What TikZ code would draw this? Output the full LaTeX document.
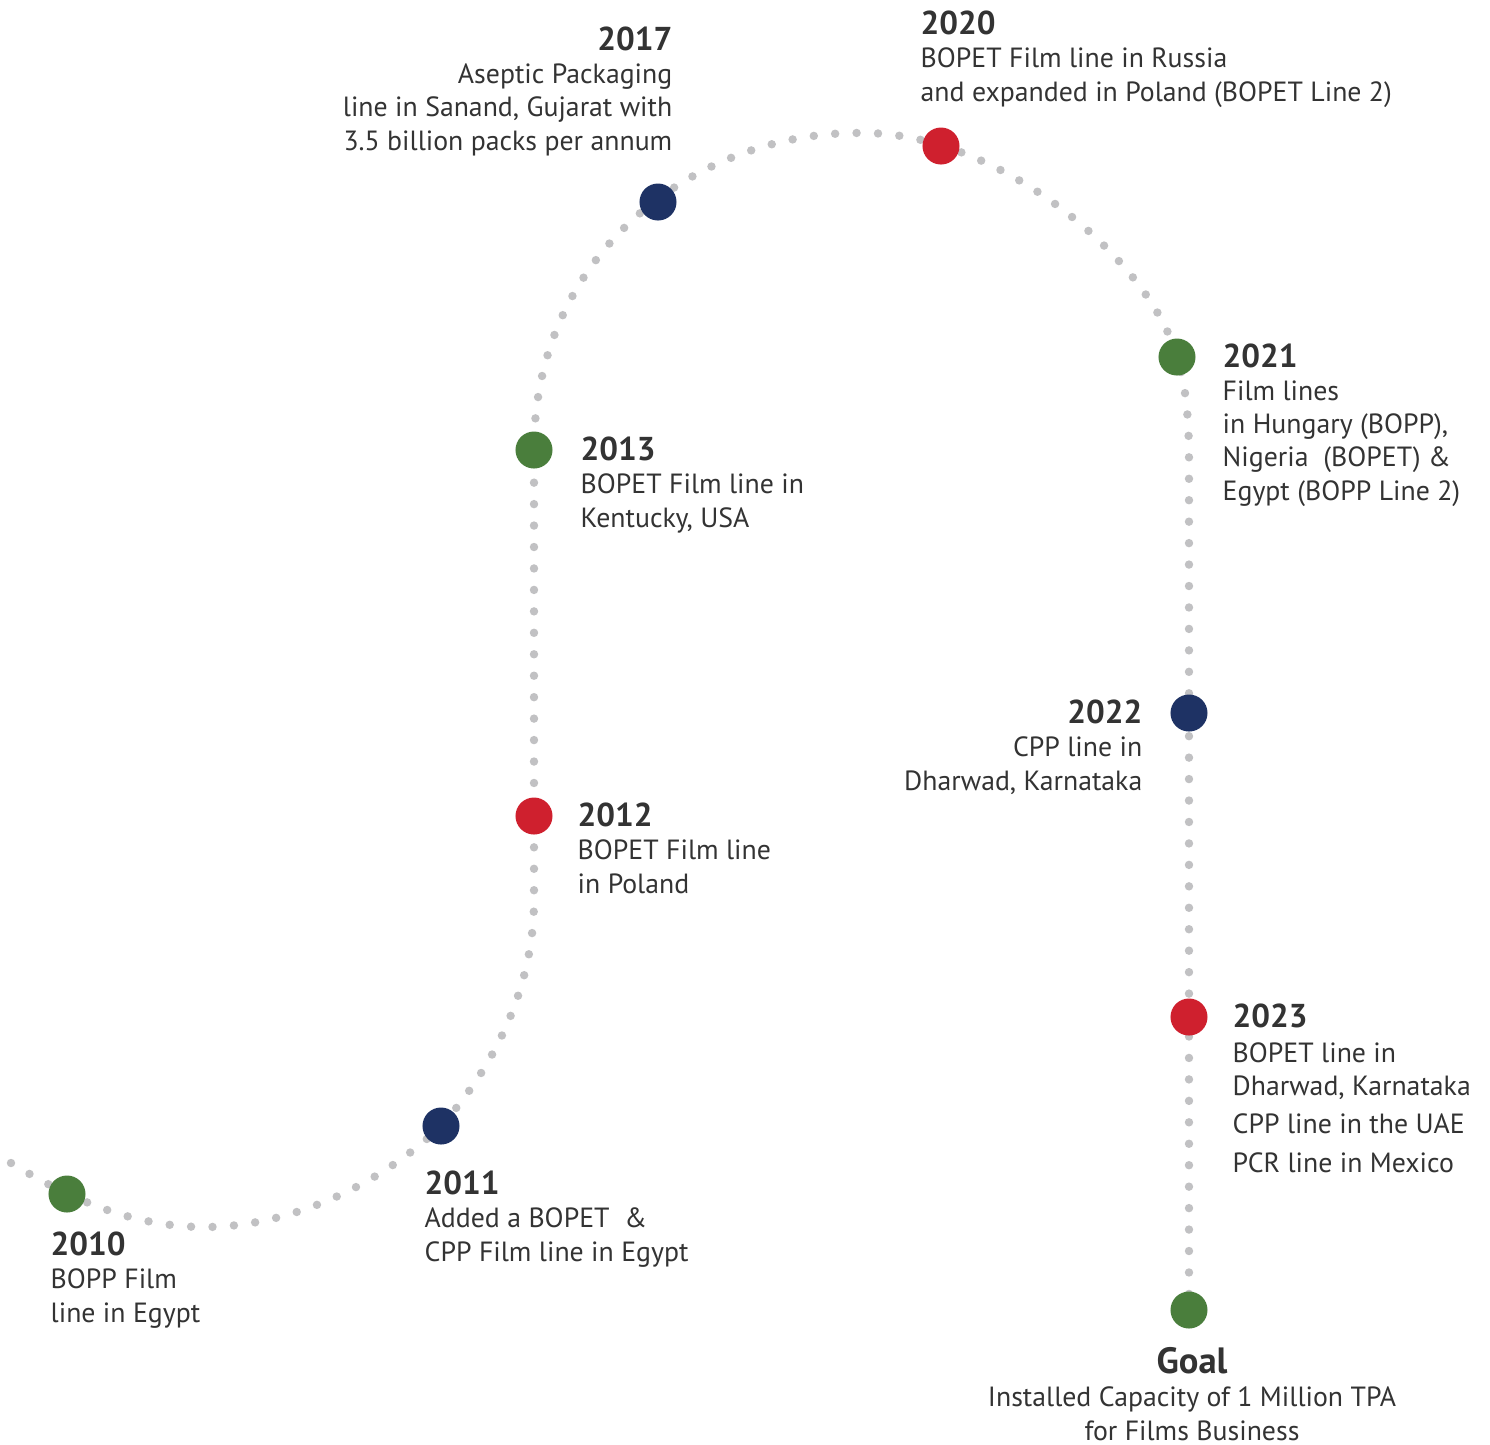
\documentclass[tikz,border=0pt]{standalone}
\usepackage{fontspec}
\setmainfont{PT Sans}
\usepackage{xcolor}
\pgfdeclarelayer{background}
\pgfsetlayers{background,main}

\definecolor{mgreen}{HTML}{4A7E3C}
\definecolor{mnavy}{HTML}{1E3264}
\definecolor{mred}{HTML}{CF202E}
\definecolor{trailgray}{HTML}{C1C1C3}
\definecolor{txtgray}{HTML}{333333}

\tikzset{
  milestone/.style={circle, inner sep=0pt, minimum size=3.7mm, fill=#1},
  trail/.style={trailgray, line width=2.4pt, line cap=round, dash pattern=on 0pt off 6.1pt},
  info/.style={inner sep=0pt, text=txtgray, font=\fontsize{7.9}{9.4}\selectfont},
}

\newcommand{\yr}[1]{{\fontsize{9.4}{9.4}\selectfont\bfseries #1}}

\begin{document}
\begin{tikzpicture}[x=0.01cm, y=-0.01cm]

\useasboundingbox (0,0) rectangle (1490,1444);

%milestones
\node [milestone=mgreen] (m2010) at (67,1194) {};
\node [milestone=mnavy] (m2011) at (441,1126) {};
\node [milestone=mred] (m2012) at (534,816) {};
\node [milestone=mgreen] (m2013) at (534,450) {};
\node [milestone=mnavy] (m2017) at (658,202) {};
\node [milestone=mred] (m2020) at (941,146) {};
\node [milestone=mgreen] (m2021) at (1177,357) {};
\node [milestone=mnavy] (m2022) at (1189,713) {};
\node [milestone=mred] (m2023) at (1189,1017) {};
\node [milestone=mgreen] (goal) at (1189,1310) {};

%dotted trail
\coordinate (start) at (11,1163);
\begin{pgfonlayer}{background}
\draw [trail] (start) .. controls (80,1205) and (140,1227) .. (205,1227)
  .. controls (290,1227) and (380,1185) .. (m2011.center)
  .. controls (500,1060) and (534,980) .. (534,900) -- (m2013.center)
  .. controls (534,250) and (700,130) .. (864,133)
  .. controls (1000,133) and (1150,260) .. (m2021.center)
  .. controls (1186,385) and (1189,420) .. (1189,460) -- (goal.center) ;
\end{pgfonlayer}

%labels (placed at the baseline of their last line)
\node [info, align=left, anchor=base west] (t2010) at (50,1322) {\yr{2010}\\BOPP Film\\line in Egypt} ;
\node [info, align=left, anchor=base west] (t2011) at (424,1261) {\yr{2011}\\Added a BOPET ~\&\\CPP Film line in Egypt} ;
\node [info, align=left, anchor=base west] (t2012) at (577,893) {\yr{2012}\\BOPET Film line\\in Poland} ;
\node [info, align=left, anchor=base west] (t2013) at (580,527) {\yr{2013}\\BOPET Film line in\\Kentucky, USA} ;
\node [info, align=right, anchor=base east] (t2017) at (673,150) {\yr{2017}\\Aseptic Packaging\\line in Sanand, Gujarat with\\3.5 billion packs per annum} ;
\node [info, align=left, anchor=base west] (t2020) at (920,101) {\yr{2020}\\BOPET Film line in Russia\\and expanded in Poland (BOPET Line 2)} ;
\node [info, align=left, anchor=base west] (t2021) at (1222,500) {\yr{2021}\\Film lines\\in Hungary (BOPP),\\Nigeria ~(BOPET) \&\\Egypt (BOPP Line 2)} ;
\node [info, align=right, anchor=base east] (t2022) at (1143,790) {\yr{2022}\\CPP line in\\Dharwad, Karnataka} ;
\node [info, align=left, anchor=base west] (t2023) at (1232,1172) {\yr{2023}\\[0.6pt]BOPET line in\\Dharwad, Karnataka\\[1.4pt]CPP line in the UAE\\[1.6pt]PCR line in Mexico} ;

%goal
\node [info, align=center, anchor=base] (tgoal) at (1192,1440) {{\fontsize{10.4}{10.4}\selectfont\bfseries Goal}\\Installed Capacity of 1 Million TPA\\for Films Business} ;

\end{tikzpicture}
\end{document}
